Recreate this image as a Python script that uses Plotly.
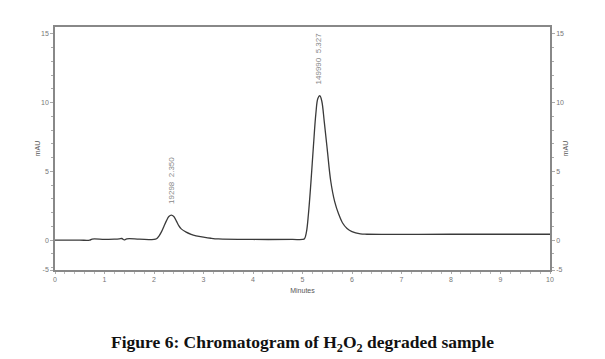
import plotly.graph_objects as go

# Chromatogram trace (minutes, mAU)
time_min = [0.00, 0.50, 0.70, 0.75, 1.00, 1.20, 1.30, 1.35, 1.40, 1.45, 1.70, 2.00, 2.05, 2.10, 2.15, 2.20,
            2.25, 2.30, 2.35, 2.40, 2.45, 2.50, 2.55, 2.65, 2.75, 2.85, 3.00, 3.15, 3.30, 4.00,
            4.80, 5.00, 5.04, 5.08, 5.12, 5.17, 5.22, 5.27, 5.31, 5.35, 5.39, 5.44, 5.50, 5.57,
            5.65, 5.73, 5.81, 5.90, 6.00, 6.17, 6.30, 8.00, 10.00]
signal_mau = [0.00, 0.00, 0.00, 0.08, 0.06, 0.08, 0.10, 0.12, 0.02, 0.10, 0.08, 0.05, 0.10, 0.30, 0.60, 1.00,
              1.40, 1.72, 1.82, 1.72, 1.40, 1.05, 0.82, 0.58, 0.42, 0.32, 0.22, 0.14, 0.09, 0.05,
              0.05, 0.05, 0.10, 0.60, 1.90, 4.20, 6.80, 9.20, 10.30, 10.50, 10.10, 8.60, 6.60, 4.30,
              2.80, 1.90, 1.25, 0.85, 0.62, 0.46, 0.43, 0.43, 0.43]

peak_times = [2.350, 5.327]
peak_areas = [19298, 149990]
peak_heights = [1.82, 10.50]

y_tick_labels = ["-5", "0", "5", "10", "15"]
x_tick_labels = [str(i) for i in range(11)]

y_bottom = -2.17
y_top = 15.5
y_tickvals = [y_bottom, 0, 5, 10, 15]

fig = go.Figure()
fig.add_trace(go.Scatter(x=time_min, y=signal_mau, mode="lines", line=dict(color="#3a3a3a", width=1.3),
                         line_shape="spline", showlegend=False, hoverinfo="skip"))
fig.add_trace(go.Scatter(x=[0, 10], y=[0, 0], mode="lines", line=dict(width=0), yaxis="y2",
                         showlegend=False, hoverinfo="skip", opacity=0))

for t, a, h in zip(peak_times, peak_areas, peak_heights):
    fig.add_annotation(x=t, y=h, yshift=9, text=f"{a}  {t:.3f}", textangle=-90, showarrow=False,
                       xanchor="center", yanchor="bottom", font=dict(family="Liberation Sans", size=8, color="#888"))

tickfont = dict(family="Liberation Sans", size=7, color="#777")
titlefont = dict(family="Liberation Sans", size=7, color="#555")
# page body adds an 8px offset, so the figure is sized to fit the window
fig.update_layout(
    width=597, height=351, paper_bgcolor="white", plot_bgcolor="white",
    margin=dict(l=47, r=55, t=19, b=89),
    xaxis=dict(range=[0, 10], tickvals=list(range(11)), ticktext=x_tick_labels, showgrid=False, zeroline=False,
               showline=True, linecolor="#888", linewidth=1.5, mirror=True, ticks="outside", ticklen=2,
               tickcolor="#aaa", tickfont=tickfont, automargin=False,
               minor=dict(dtick=0.2, ticks="outside", ticklen=2, tickcolor="#bbb"),
               title=dict(text="Minutes", font=titlefont, standoff=6)),
    yaxis=dict(range=[y_bottom, y_top], tickvals=y_tickvals, ticktext=y_tick_labels, showgrid=False, zeroline=False,
               showline=True, linecolor="#888", linewidth=1.5, ticks="outside", ticklen=3, tickcolor="#aaa",
               tickfont=tickfont, automargin=False,
               minor=dict(tickvals=list(range(-2, 16)), ticks="outside", ticklen=2, tickcolor="#aaa"),
               title=dict(text="mAU", font=titlefont, standoff=0)),
    yaxis2=dict(range=[y_bottom, y_top], tickvals=y_tickvals, ticktext=y_tick_labels, overlaying="y", side="right",
                showgrid=False, zeroline=False, showline=True, linecolor="#888", linewidth=1.5, ticks="outside",
                ticklen=3, tickcolor="#aaa", tickfont=tickfont, automargin=False,
                minor=dict(tickvals=list(range(-2, 16)), ticks="outside", ticklen=2, tickcolor="#aaa"),
                title=dict(text="mAU", font=titlefont, standoff=0)),
)

fig.add_annotation(xref="paper", yref="paper", x=0.5, y=-0.245, yanchor="top", showarrow=False,
                   text="<b>Figure 6: Chromatogram of H<sub>2</sub>O<sub>2</sub> degraded sample</b>",
                   font=dict(family="Liberation Serif", size=17.5, color="#111"))

fig.write_html("out.html")
